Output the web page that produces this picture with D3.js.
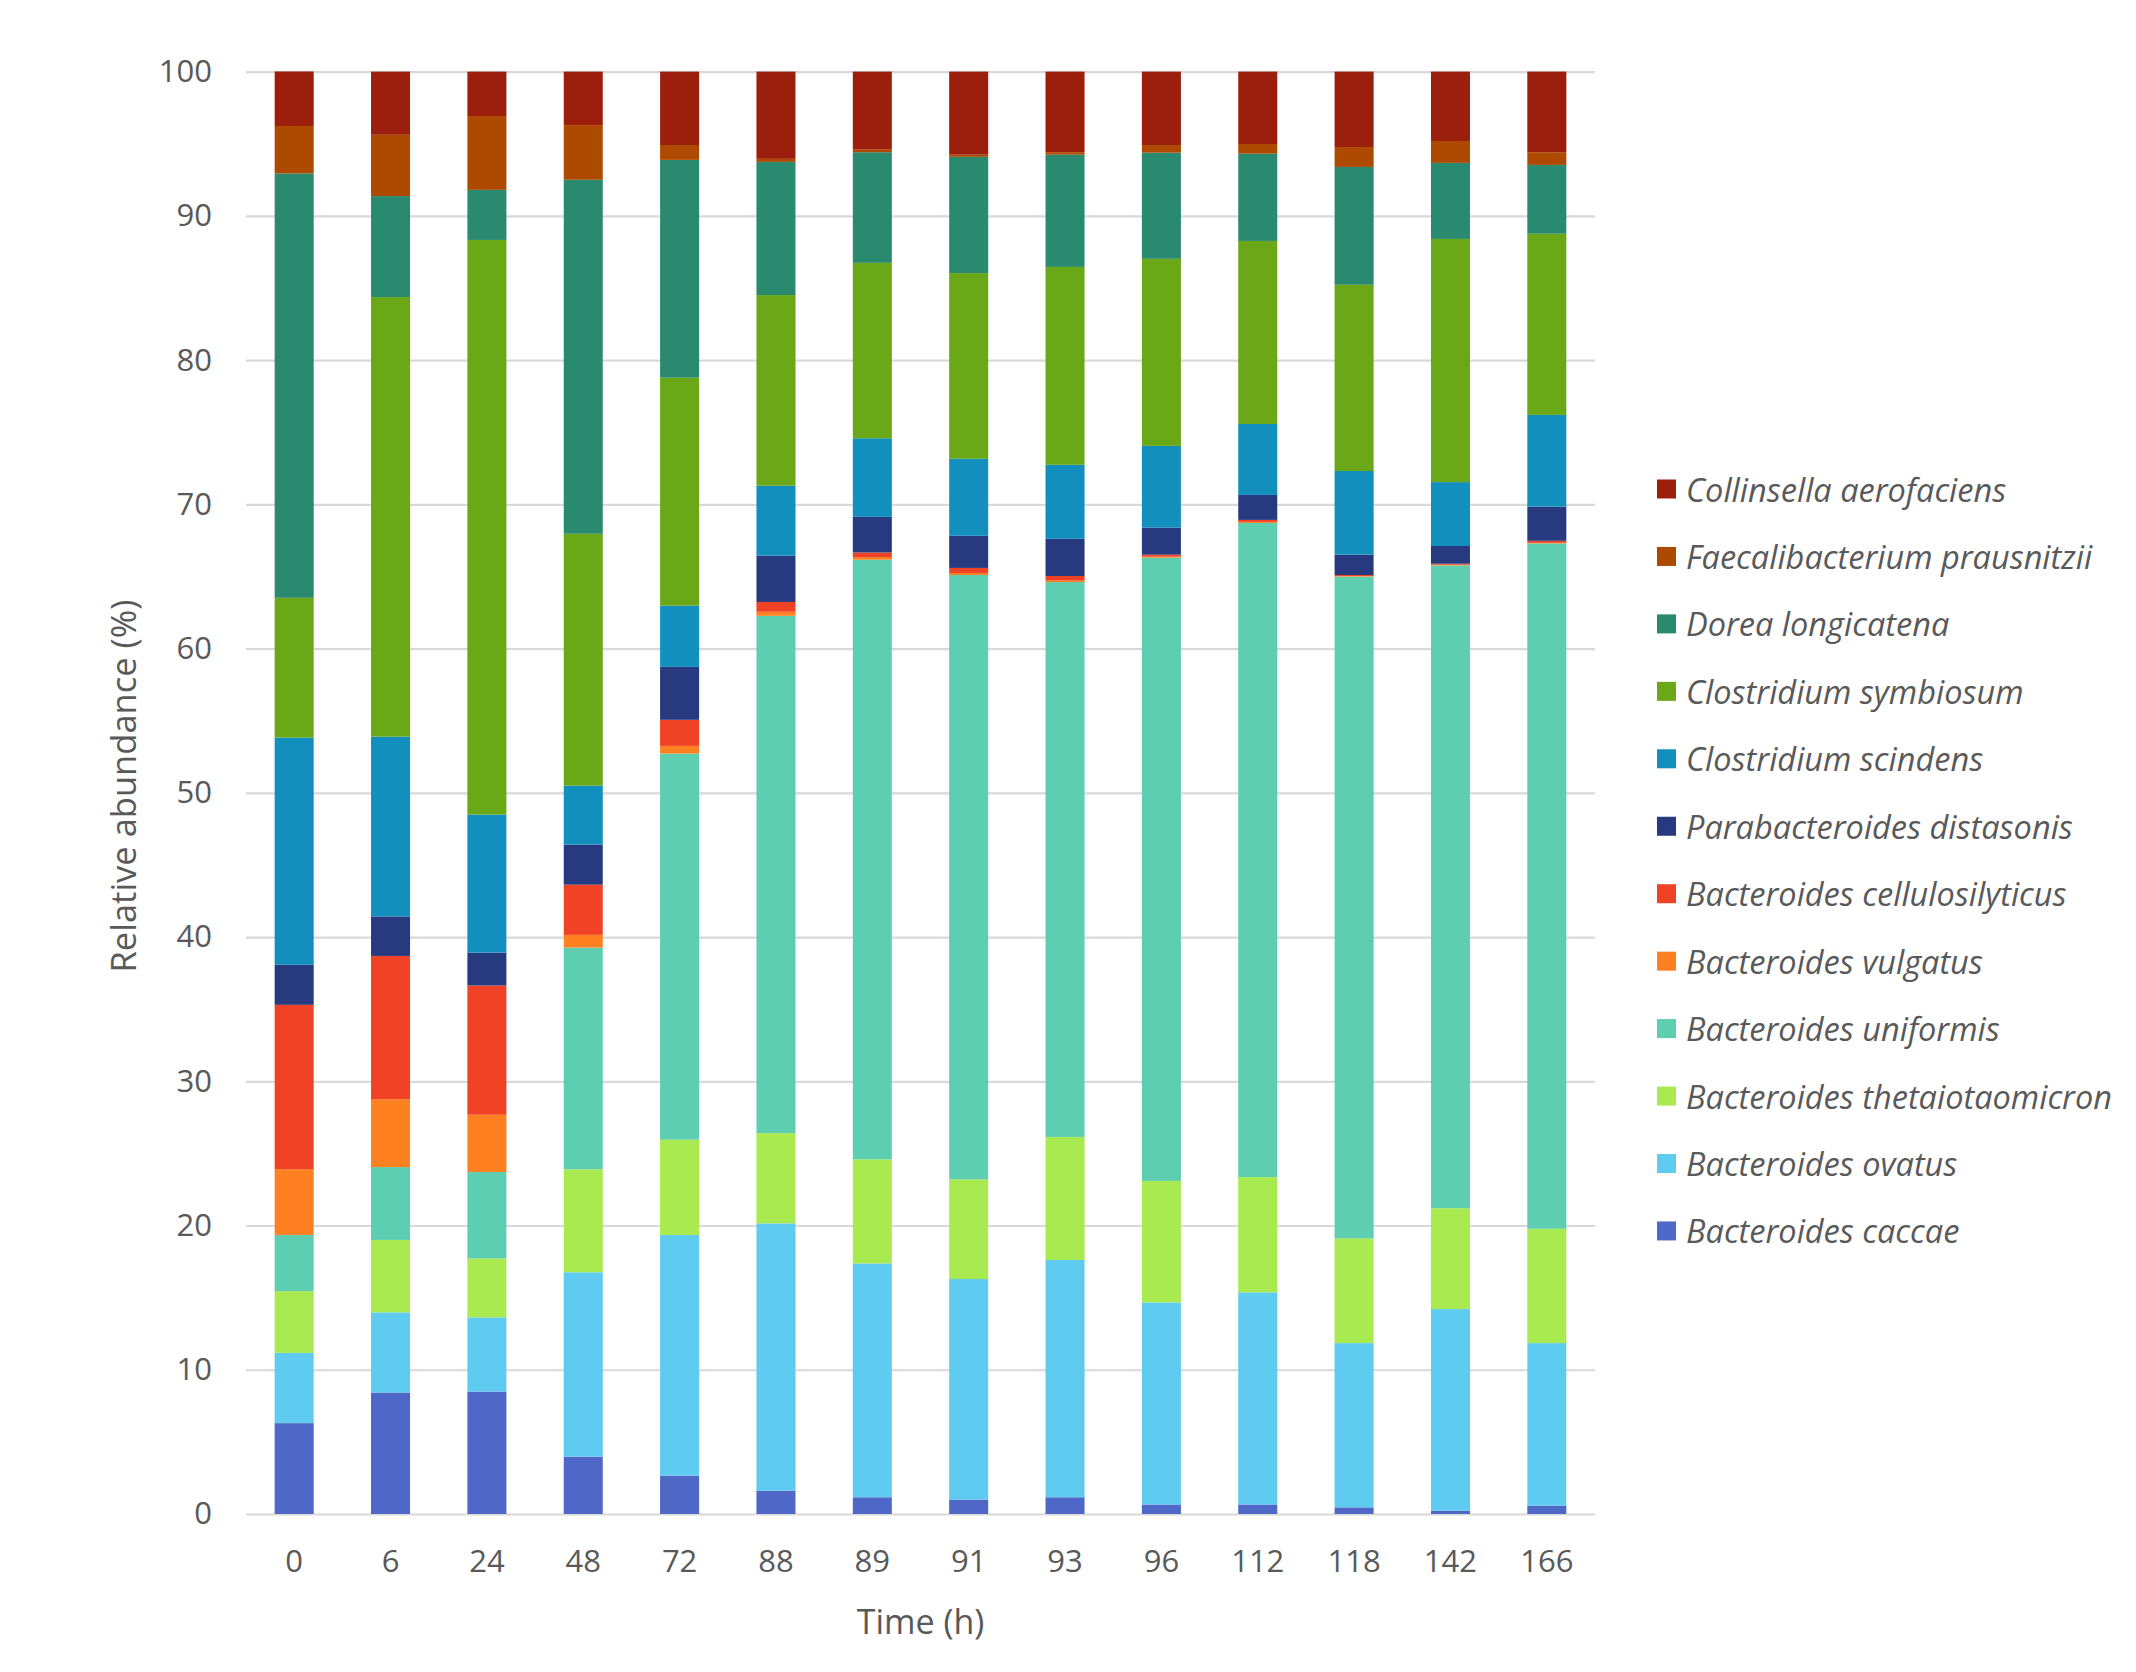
<!DOCTYPE html>
<html>
<head>
<meta charset="utf-8">
<script src="https://cdn.jsdelivr.net/npm/d3@7"></script>
<style>
  html, body { margin: 0; padding: 0; background: #ffffff; }
  svg { display: block; }
</style>
</head>
<body>
<svg id="chart" width="2136" height="1672"></svg>
<script>
// ---- Data ----
const timepoints = ["0","6","24","48","72","88","89","91","93","96","112","118","142","166"];

// Series (bottom to top of stack)
const speciesNames = [
  "Bacteroides caccae",
  "Bacteroides ovatus",
  "Bacteroides thetaiotaomicron",
  "Bacteroides uniformis",
  "Bacteroides vulgatus",
  "Bacteroides cellulosilyticus",
  "Parabacteroides distasonis",
  "Clostridium scindens",
  "Clostridium symbiosum",
  "Dorea longicatena",
  "Faecalibacterium prausnitzii",
  "Collinsella aerofaciens"
];
const speciesColors = [
  "#4F67C6", "#5FCBF1", "#A9EA50", "#5ECEB0", "#FF8020", "#F04325",
  "#283A7F", "#128FBD", "#6AA817", "#2A8A70", "#AD4A00", "#9B1F0C"
];

const bCaccae        = [6.30, 8.42, 8.49, 3.98, 2.66, 1.62, 1.16, 1.00, 1.16, 0.66, 0.66, 0.46, 0.23, 0.58];
const bOvatus        = [4.87, 5.56, 5.14, 12.78, 16.68, 18.53, 16.21, 15.29, 16.45, 14.01, 14.71, 11.39, 13.98, 11.27];
const bTheta         = [4.28, 5.02, 4.09, 7.14, 6.61, 6.26, 7.22, 6.91, 8.53, 8.42, 7.99, 7.26, 6.99, 7.92];
const bUniformis     = [3.90, 5.05, 5.99, 15.37, 26.77, 35.86, 41.57, 41.90, 38.47, 43.21, 45.35, 45.88, 44.57, 47.52];
const bVulgatus      = [4.56, 4.71, 3.97, 0.88, 0.53, 0.28, 0.18, 0.14, 0.10, 0.07, 0.07, 0.04, 0.04, 0.04];
const bCellulo       = [11.39, 9.93, 8.96, 3.48, 1.81, 0.68, 0.32, 0.35, 0.32, 0.14, 0.14, 0.07, 0.07, 0.14];
const pDistasonis    = [2.78, 2.74, 2.28, 2.78, 3.67, 3.21, 2.47, 2.23, 2.58, 1.88, 1.73, 1.41, 1.23, 2.37];
const cScindens      = [15.75, 12.46, 9.57, 4.09, 4.25, 4.85, 5.45, 5.34, 5.13, 5.66, 4.92, 5.80, 4.43, 6.36];
const cSymbiosum     = [9.69, 30.48, 39.84, 17.46, 15.80, 13.22, 12.16, 12.87, 13.72, 12.97, 12.69, 12.91, 16.86, 12.56];
const dLongicatena   = [29.42, 7.00, 3.47, 24.54, 15.10, 9.23, 7.67, 8.06, 7.78, 7.36, 6.05, 8.17, 5.27, 4.77];
const fPrausnitzii   = [3.29, 4.25, 5.12, 3.79, 1.03, 0.21, 0.18, 0.15, 0.17, 0.53, 0.67, 1.38, 1.52, 0.88];
const cAerofaciens   = [3.78, 4.38, 3.08, 3.71, 5.09, 6.05, 5.41, 5.76, 5.59, 5.09, 5.02, 5.23, 4.81, 5.59];

const seriesValues = [bCaccae, bOvatus, bTheta, bUniformis, bVulgatus, bCellulo,
  pDistasonis, cScindens, cSymbiosum, dLongicatena, fPrausnitzii, cAerofaciens];

const yTicks = [0, 10, 20, 30, 40, 50, 60, 70, 80, 90, 100];

// ---- Build table ----
const table = timepoints.map((t, i) => {
  const row = { time: t };
  speciesNames.forEach((s, k) => { row[s] = seriesValues[k][i]; });
  return row;
});

// ---- Layout ----
const FONT = "'Open Sans', 'Noto Sans', sans-serif";
const TXT = "#595959";
const plot = { left: 246, right: 1595, top: 71.6, bottom: 1514 };

const svg = d3.select("#chart");

const x = d3.scaleBand()
  .domain(timepoints)
  .range([plot.left, plot.right])
  .paddingInner(0.595)
  .paddingOuter(0.2975);

const y = d3.scaleLinear().domain([0, 100]).range([plot.bottom, plot.top]);

// Gridlines
const yAxis = d3.axisLeft(y).tickValues(yTicks).tickSize(-(plot.right - plot.left)).tickPadding(34);
const gy = svg.append("g").attr("transform", `translate(${plot.left},0)`).call(yAxis);
gy.select(".domain").remove();
gy.selectAll(".tick line").attr("stroke", "#D9D9D9").attr("stroke-width", 2.2);
gy.selectAll(".tick text")
  .attr("fill", TXT).attr("font-family", FONT).attr("font-size", 31);

// Bars
const stack = d3.stack().keys(speciesNames);
const stacked = stack(table);

svg.append("g").selectAll("g")
  .data(stacked)
  .join("g")
  .attr("fill", (d, i) => speciesColors[i])
  .selectAll("rect")
  .data(d => d)
  .join("rect")
  .attr("x", d => x(d.data.time))
  .attr("width", x.bandwidth())
  .attr("y", d => y(d[1]))
  .attr("height", d => Math.max(0, y(d[0]) - y(d[1])));

// X axis labels
const xAxis = d3.axisBottom(x).tickSize(0).tickPadding(0);
const gx = svg.append("g").attr("transform", `translate(0,${plot.bottom})`).call(xAxis);
gx.select(".domain").remove();
gx.selectAll(".tick text")
  .attr("y", 46).attr("dy", null)
  .attr("dominant-baseline", "central")
  .attr("fill", TXT).attr("font-family", FONT).attr("font-size", 31);

// Axis titles
svg.append("text")
  .attr("x", (plot.left + plot.right) / 2)
  .attr("y", 1621)
  .attr("text-anchor", "middle")
  .attr("dominant-baseline", "central")
  .attr("fill", TXT).attr("font-family", FONT).attr("font-size", 34)
  .text("Time (h)");

svg.append("text")
  .attr("transform", `translate(122,786) rotate(-90)`)
  .attr("text-anchor", "middle")
  .attr("dominant-baseline", "central")
  .attr("fill", TXT).attr("font-family", FONT).attr("font-size", 34.5)
  .text("Relative abundance (%)");

// Legend (top to bottom: reverse of stack order)
const legendOrder = speciesNames.map((s, i) => i).reverse();
const lg = svg.append("g");
legendOrder.forEach((k, j) => {
  const cy = 489 + j * 67.45;
  lg.append("rect")
    .attr("x", 1657).attr("y", cy - 9.5)
    .attr("width", 19).attr("height", 19)
    .attr("fill", speciesColors[k]);
  lg.append("text")
    .attr("x", 1686).attr("y", cy)
    .attr("dominant-baseline", "central")
    .attr("font-style", "italic")
    .attr("fill", TXT).attr("font-family", FONT).attr("font-size", 32.5)
    .text(speciesNames[k]);
});
</script>
</body>
</html>
